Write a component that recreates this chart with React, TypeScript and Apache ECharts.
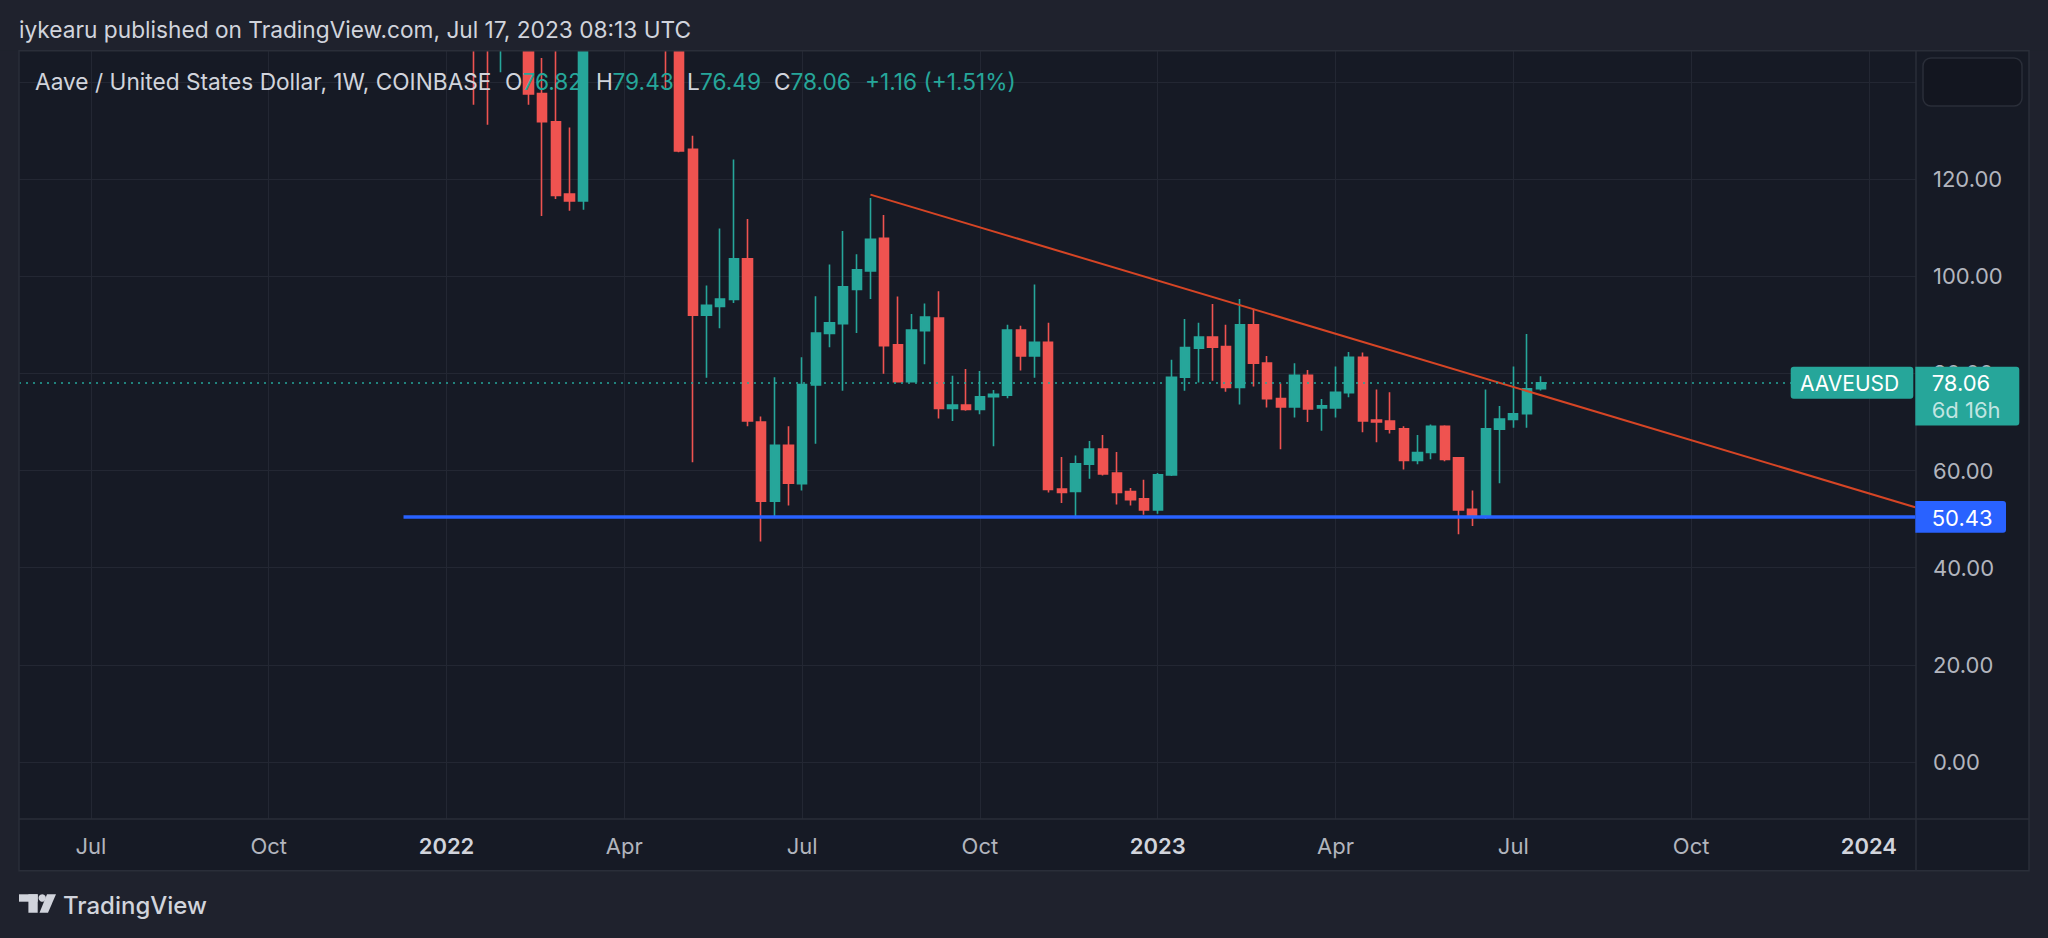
import React, { useEffect, useRef } from "react";
import * as echarts from "echarts";

// ---------- data (weekly AAVE/USD, Coinbase) ----------
const weeks = [
  "2022-01-17", "2022-01-24", "2022-01-31", "2022-02-07", "2022-02-14", "2022-02-21", "2022-02-28",
  "2022-03-07", "2022-03-14", "2022-03-21", "2022-03-28", "2022-04-04", "2022-04-11", "2022-04-18", "2022-04-25",
  "2022-05-02", "2022-05-09", "2022-05-16", "2022-05-23", "2022-05-30",
  "2022-06-06", "2022-06-13", "2022-06-20", "2022-06-27",
  "2022-07-04", "2022-07-11", "2022-07-18", "2022-07-25",
  "2022-08-01", "2022-08-08", "2022-08-15", "2022-08-22", "2022-08-29",
  "2022-09-05", "2022-09-12", "2022-09-19", "2022-09-26",
  "2022-10-03", "2022-10-10", "2022-10-17", "2022-10-24", "2022-10-31",
  "2022-11-07", "2022-11-14", "2022-11-21", "2022-11-28",
  "2022-12-05", "2022-12-12", "2022-12-19", "2022-12-26",
  "2023-01-02", "2023-01-09", "2023-01-16", "2023-01-23", "2023-01-30",
  "2023-02-06", "2023-02-13", "2023-02-20", "2023-02-27",
  "2023-03-06", "2023-03-13", "2023-03-20", "2023-03-27",
  "2023-04-03", "2023-04-10", "2023-04-17", "2023-04-24",
  "2023-05-01", "2023-05-08", "2023-05-15", "2023-05-22", "2023-05-29",
  "2023-06-05", "2023-06-12", "2023-06-19", "2023-06-26",
  "2023-07-03", "2023-07-10", "2023-07-17",
];

const opens = [
  218, 152, 149, 178, 172, 137.6, 131.8,
  116.9, 115.5, 170, 214, 222, 183, 168, 158,
  152, 126.1, 91.95, 93.8, 95.2,
  103.6, 70.0, 53.7, 65.2,
  57.3, 77.6, 88.2, 90.2,
  97.3, 101.1, 107.8, 85.9, 78.3,
  88.8, 91.4, 72.8, 73.5,
  72.6, 75.2, 75.5, 88.9, 83.6,
  86.4, 56.2, 55.7, 61.3,
  64.4, 59.5, 55.7, 54.2,
  51.9, 59.1, 79.2, 85.2, 87.5,
  85.5, 77.1, 90.0, 82.1,
  74.8, 73.1, 79.6, 72.9,
  72.9, 76.0, 83.3, 70.4,
  70.2, 68.6, 62.1, 63.7, 69.1,
  62.6, 52.0, 50.5, 68.5,
  70.5, 71.7, 76.82,
];

const closes = [
  152, 149, 178, 172, 137.5, 131.8, 116.6,
  115.5, 170, 214, 222, 183, 168, 158, 152,
  125.8, 91.95, 94.0, 95.3, 103.6,
  70.2, 53.7, 65.2, 57.4,
  77.7, 88.3, 90.4, 97.8,
  101.3, 107.6, 85.7, 78.3, 88.9,
  91.6, 72.8, 73.5, 72.6,
  75.2, 75.7, 88.9, 83.6, 86.4,
  56.1, 55.5, 61.4, 64.4,
  59.3, 55.5, 54.0, 51.9,
  59.1, 79.2, 85.3, 87.5, 85.4,
  77.1, 90.0, 82.1, 74.8,
  73.1, 79.6, 72.7, 73.3,
  76.1, 83.3, 70.2, 70.0,
  68.5, 62.1, 63.7, 69.1, 62.3,
  51.9, 50.7, 68.6, 70.6,
  71.7, 76.82, 78.06,
];

const lows = [
  135.3, 131.2, 142, 160, 135.3, 112.4, 115.9,
  113.5, 113.7, 163, 205, 176, 155, 150, 138.5,
  125.5, 61.7, 79.1, 89.3, 94.5,
  69.1, 45.4, 50.4, 52.8,
  55.9, 65.5, 85.4, 76.4,
  88.3, 95.3, 79.9, 78.1, 78.1,
  81.9, 70.7, 70.2, 72.3,
  71.6, 65.0, 74.9, 80.6, 79.1,
  55.5, 53.3, 50.2, 58.3,
  59.0, 53.0, 52.8, 50.9,
  51.1, 58.9, 76.4, 78.1, 78.5,
  76.2, 73.6, 77.3, 73.0,
  64.4, 70.9, 70.0, 68.2,
  70.9, 75.1, 67.9, 65.8,
  67.6, 60.2, 61.3, 62.3, 61.9,
  46.9, 48.6, 50.0, 57.4,
  68.8, 68.8, 76.49,
];

const highs = [
  232, 170, 185, 200, 185, 144.9, 152,
  130.6, 176, 225, 262, 230, 190, 183, 172,
  165, 128.9, 98.1, 109.8, 124.0,
  111.8, 71.1, 79.2, 69.1,
  83.3, 95.9, 102.4, 109.3,
  104.5, 116.1, 112.6, 95.8, 92.2,
  94.4, 96.9, 79.5, 80.9,
  80.5, 76.6, 90.0, 89.8, 98.3,
  90.4, 62.8, 63.1, 66.1,
  67.3, 63.8, 56.4, 58.1,
  59.5, 82.8, 91.2, 90.4, 94.3,
  90.0, 95.3, 93.3, 83.6,
  77.9, 82.1, 80.7, 74.7,
  81.4, 84.4, 84.3, 76.7,
  76.1, 69.1, 67.3, 69.5, 69.3,
  62.8, 55.9, 76.7, 73.3,
  81.4, 88.1, 79.43,
];

const lastPrice = 78.06;
const supportLevel = 50.43;
const supportStart = "2021-12-12";
const trendStart = "2022-08-08";
const trendStartValue = 116.8;
const trendEndValue = 52.4;

const quarterTicks = [
  "2021-07-05", "2021-10-04", "2022-01-03", "2022-04-04", "2022-07-04", "2022-10-03",
  "2023-01-02", "2023-04-03", "2023-07-03", "2023-10-02", "2024-01-01",
];
const quarterLabels = ["Jul", "Oct", "2022", "Apr", "Jul", "Oct", "2023", "Apr", "Jul", "Oct", "2024"];
const priceLabels = [0, 20, 40, 60, 80, 100, 120];
const priceGridLines = [0, 20, 40, 60, 80, 100, 120, 140];

const titleText = "iykearu published on TradingView.com, Jul 17, 2023 08:13 UTC";
const symbolText = "Aave / United States Dollar, 1W, COINBASE";
const ohlcLetters = ["O", "H", "L", "C"];
const ohlcValues = ["76.82", "79.43", "76.49", "78.06"];
const changeText = "+1.16 (+1.51%)";
const countdownText = "6d 16h";
const tickerText = "AAVEUSD";

// ---------- styling ----------
const OUTER = "#1f222d";
const PANE = "#161a25";
const BORDER = "#2a2e39";
const GRID = "#232733";
const UP = "#26a69a";
const DOWN = "#ef5350";
const BLUE = "#2962ff";
const TREND = "#d64525";
const TEXT = "#d1d4dc";
const AXIS_TEXT = "#b2b5be";
const FONT = "Inter, 'Noto Sans', sans-serif";

const DAY = 86400000;
const utc = (s: string) => {
  const [y, m, d] = s.split("-").map(Number);
  return Date.UTC(y, m - 1, d);
};
const anchor = utc("2022-01-03");
const axisMin = anchor - 218.8 * DAY;
const axisMax = anchor + 752.1 * DAY;

export default function App() {
  const ref = useRef<HTMLDivElement>(null);

  useEffect(() => {
    document.body.style.margin = "0";
    document.body.style.background = OUTER;
    const el = ref.current!;
    const chart = echarts.init(el, null, { renderer: "svg" });

    const candleData = weeks.map((w, i) => [utc(w), opens[i], closes[i], lows[i], highs[i]]);
    const tickValues = quarterTicks.map(utc);

    chart.setOption({
      animation: false,
      backgroundColor: OUTER,
      grid: { left: 19, top: 51, width: 1897, height: 768, containLabel: false, outerBoundsMode: "none" },
      xAxis: {
        type: "value",
        min: axisMin,
        max: axisMax,
        scale: true,
        axisLine: { show: false },
        axisTick: { show: false, customValues: tickValues },
        splitLine: { show: true, lineStyle: { color: GRID, width: 1 } },
        axisLabel: {
          customValues: tickValues,
          margin: 16,
          fontFamily: FONT,
          fontSize: 22,
          color: AXIS_TEXT,
          formatter: (v: number) => {
            let idx = 0;
            let best = Infinity;
            tickValues.forEach((t, i) => {
              const d = Math.abs(t - v);
              if (d < best) { best = d; idx = i; }
            });
            const lab = quarterLabels[idx];
            return /^\d{4}$/.test(lab) ? "{y|" + lab + "}" : lab;
          },
          rich: {
            y: { fontFamily: FONT, fontSize: 22, fontWeight: 600, color: TEXT },
          },
        },
      },
      yAxis: {
        type: "value",
        position: "right",
        min: -11.73,
        max: 146.36,
        scale: true,
        axisLine: { show: false },
        axisTick: { show: false, customValues: priceGridLines },
        splitLine: { show: true, lineStyle: { color: GRID, width: 1 } },
        axisLabel: {
          customValues: priceLabels,
          margin: 17,
          fontFamily: FONT,
          fontSize: 22,
          color: AXIS_TEXT,
          formatter: (v: number) => v.toFixed(2),
        },
      },
      series: [
        {
          type: "candlestick",
          data: candleData,
          barWidth: 9.8,
          itemStyle: {
            color: UP,
            color0: DOWN,
            borderColor: UP,
            borderColor0: DOWN,
            borderWidth: 1.6,
          },
          markLine: {
            silent: true,
            symbol: ["none", "none"],
            label: { show: false },
            lineStyle: { color: UP, width: 1.6, type: [2, 5] },
            data: [{ yAxis: lastPrice }],
          },
          z: 2,
        },
        {
          type: "line",
          data: [[utc(supportStart), supportLevel], [axisMax, supportLevel]],
          symbol: "none",
          lineStyle: { color: BLUE, width: 3.5 },
          z: 3,
          silent: true,
        },
        {
          type: "line",
          data: [[utc(trendStart), trendStartValue], [axisMax, trendEndValue]],
          symbol: "none",
          lineStyle: { color: TREND, width: 2 },
          z: 4,
          silent: true,
        },
      ],
    });

    const yLast = chart.convertToPixel({ yAxisIndex: 0 }, lastPrice) as number;
    const ySup = chart.convertToPixel({ yAxisIndex: 0 }, supportLevel) as number;

    const txt = (text: string, x: number, y: number, fill: string, fontSize = 22, extra: any = {}) => ({
      type: "text",
      x,
      y,
      z: 60,
      silent: true,
      style: { text, fill, fontSize, fontFamily: FONT, verticalAlign: "middle", align: "left", ...extra },
    });

    const letterX = [505, 596, 687, 774];
    const valueX = [522.5, 612.5, 700, 790.5];

    const graphics: any[] = [
      { type: "rect", z: -10, silent: true, shape: { x: 19, y: 51, width: 2010, height: 820 }, style: { fill: PANE } },
      { type: "rect", z: 50, silent: true, shape: { x: 0, y: 0, width: 2048, height: 50.5 }, style: { fill: OUTER } },
      { type: "rect", z: 51, silent: true, shape: { x: 19, y: 50.75, width: 2010, height: 820 }, style: { fill: "none", stroke: BORDER, lineWidth: 1.5 } },
      { type: "line", z: 51, silent: true, shape: { x1: 1916, y1: 51, x2: 1916, y2: 871 }, style: { stroke: BORDER, lineWidth: 1.5 } },
      { type: "line", z: 51, silent: true, shape: { x1: 19, y1: 819, x2: 2029, y2: 819 }, style: { stroke: BORDER, lineWidth: 1.5 } },
      txt(titleText, 19, 29.5, TEXT, 22.7),
      txt(symbolText, 35, 81, TEXT, 22.7),
      ...ohlcLetters.map((l, i) => txt(l, letterX[i], 81, TEXT, 22.7)),
      ...ohlcValues.map((v, i) => txt(v, valueX[i], 81, UP, 22.7)),
      txt(changeText, 865, 81, UP, 22.7),
      { type: "rect", z: 55, silent: true, shape: { x: 1923, y: 58, width: 99, height: 48, r: 8 }, style: { fill: "#131620", stroke: BORDER, lineWidth: 1.5 } },
      { type: "rect", z: 55, silent: true, shape: { x: 1790.7, y: yLast - 16, width: 122.6, height: 32, r: 3 }, style: { fill: UP } },
      txt(tickerText, 1800, yLast + 0.5, "#ffffff", 21),
      { type: "rect", z: 55, silent: true, shape: { x: 1915.3, y: yLast - 16, width: 104, height: 58.7, r: [0, 3, 3, 0] }, style: { fill: UP } },
      txt(lastPrice.toFixed(2), 1931.7, yLast + 0.5, "#ffffff", 22),
      txt(countdownText, 1931.7, yLast + 27.5, "rgba(255,255,255,0.72)", 22),
      { type: "rect", z: 55, silent: true, shape: { x: 1915.3, y: ySup - 16, width: 90.7, height: 31.7, r: [0, 3, 3, 0] }, style: { fill: BLUE } },
      txt(supportLevel.toFixed(2), 1931.7, ySup + 0.5, "#ffffff", 22),
      { type: "rect", z: 60, silent: true, shape: { x: 19, y: 894.3, width: 18.7, height: 7.4 }, style: { fill: TEXT } },
      { type: "rect", z: 60, silent: true, shape: { x: 28.4, y: 894.3, width: 9.3, height: 18.4 }, style: { fill: TEXT } },
      { type: "circle", z: 60, silent: true, shape: { cx: 42.2, cy: 898, r: 3.7 }, style: { fill: TEXT } },
      { type: "polygon", z: 60, silent: true, shape: { points: [[47, 894.3], [56, 894.3], [48, 912.7], [39.5, 912.7]] }, style: { fill: TEXT } },
      txt("TradingView", 63, 905, TEXT, 24, { fontWeight: 500 }),
    ];

    chart.setOption({ graphic: graphics });

    return () => chart.dispose();
  }, []);

  return <div ref={ref} style={{ width: 2048, height: 938 }} />;
}
